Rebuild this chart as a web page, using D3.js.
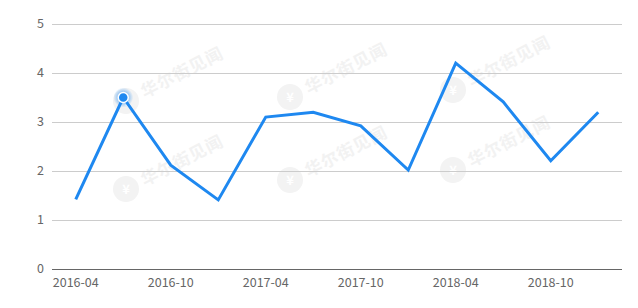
<!DOCTYPE html>
<html>
<head>
<meta charset="utf-8">
<script src="https://cdn.jsdelivr.net/npm/d3@7"></script>
<style>
html,body{margin:0;padding:0;background:#fff;}
svg{display:block;font-family:"Microsoft YaHei","Noto Sans CJK SC","Noto Sans",sans-serif;}
</style>
</head>
<body>
<svg id="chart" width="638" height="308"></svg>
<script>
const categories = ["2016-04","2016-07","2016-10","2017-01","2017-04","2017-07","2017-10","2018-01","2018-04","2018-07","2018-10","2019-01"];
const values = [1.42, 3.5, 2.12, 1.41, 3.1, 3.2, 2.92, 2.02, 4.2, 3.41, 2.21, 3.2];
const xTickLabels = ["2016-04","2016-10","2017-04","2017-10","2018-04","2018-10"];
const yTicks = [0,1,2,3,4,5];
const highlightIndex = 1;
const watermarks = [[126,101],[126,189],[290,97],[290,180],[453,90],[453,170]];

const svg = d3.select("#chart");
const margin = {left:52, right:16, top:24, bottom:39};
const W = 638, H = 308;

const x = d3.scaleBand().domain(categories).range([margin.left, W - margin.right]).padding(0);
const y = d3.scaleLinear().domain([0,5]).range([H - margin.bottom, margin.top]);
const cx = d => x(d) + x.bandwidth()/2;

// watermarks
const wm = svg.append("g");
watermarks.forEach(([px,py]) => {
  const g = wm.append("g").attr("transform", `translate(${px},${py})`);
  g.append("circle").attr("r", 13).attr("fill", "#f3f3f3");
  g.append("text").attr("text-anchor","middle").attr("dy","0.35em")
    .attr("font-size",13).attr("font-weight","bold").attr("fill","#fff").text("¥");
  g.append("text").attr("transform","rotate(-27)").attr("x",18).attr("dy","0.35em")
    .attr("font-size",17).attr("font-weight","bold").attr("fill","#f2f2f2")
    .attr("letter-spacing","1").text("华尔街见闻");
});

// gridlines
svg.append("g").selectAll("line").data(yTicks.filter(t => t > 0)).join("line")
  .attr("x1", margin.left).attr("x2", W - margin.right)
  .attr("y1", d => y(d)).attr("y2", d => y(d))
  .attr("stroke", "#cccccc").attr("stroke-width", 1).attr("shape-rendering","crispEdges");

// y axis labels
svg.append("g").selectAll("text").data(yTicks).join("text")
  .attr("x", 44).attr("y", d => y(d)).attr("dy","0.35em")
  .attr("text-anchor","end").attr("font-size",12.5).attr("fill","#666")
  .text(d => d);

// x axis
const xAxis = d3.axisBottom(x).tickValues(xTickLabels).tickSize(0).tickPadding(9);
const ax = svg.append("g").attr("transform", `translate(0,${y(0)})`).call(xAxis);
ax.select(".domain").attr("stroke","#666").attr("shape-rendering","crispEdges")
  .attr("d", `M${margin.left},0.5H${W - margin.right}`);
ax.selectAll("text").attr("font-size",12.5).attr("fill","#666")
  .attr("font-family",'"Microsoft YaHei","Noto Sans CJK SC","Noto Sans",sans-serif');

// line
const line = d3.line().x((d,i) => cx(categories[i])).y(d => y(d));
svg.append("path").datum(values).attr("d", line)
  .attr("fill","none").attr("stroke","#1e88f0").attr("stroke-width",3)
  .attr("stroke-linejoin","miter");

// highlight point
const defs = svg.append("defs");
const rg = defs.append("radialGradient").attr("id","glow");
rg.append("stop").attr("offset","40%").attr("stop-color","#1e88f0").attr("stop-opacity",0.55);
rg.append("stop").attr("offset","100%").attr("stop-color","#1e88f0").attr("stop-opacity",0);
const hx = cx(categories[highlightIndex]), hy = y(values[highlightIndex]);
svg.append("circle").attr("cx",hx).attr("cy",hy).attr("r",10).attr("fill","url(#glow)");
svg.append("circle").attr("cx",hx).attr("cy",hy).attr("r",5).attr("fill","#1e88f0")
  .attr("stroke","#fff").attr("stroke-width",1.5);
</script>
</body>
</html>
